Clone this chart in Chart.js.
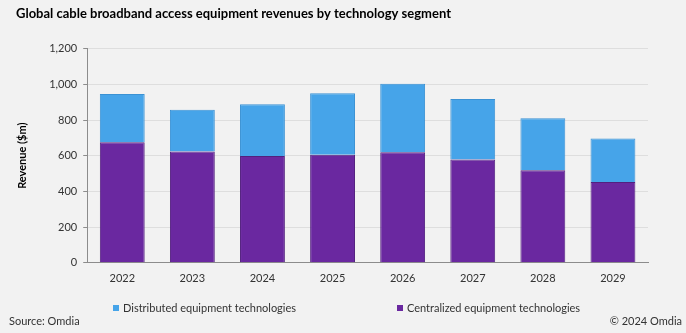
<!DOCTYPE html>
<html>
<head>
<meta charset="utf-8">
<script src="https://cdn.jsdelivr.net/npm/chart.js@4"></script>
<style>
    html, body { margin: 0; padding: 0; background: #f2f2f2; }
    .container { position: relative; width: 686px; height: 333px; }
    .note { position: absolute; top: 314px; font-family: Lato, sans-serif; font-size: 11px; color: #333; }
    #source { left: 9px; }
    #copyright { right: 4px; }
    .legend-item { position: absolute; top: 301px; font-family: Lato, sans-serif; font-size: 11px; color: #333; line-height: 14px; white-space: nowrap; }
    .legend-item span { display: inline-block; width: 6px; height: 6px; margin-right: 4px; vertical-align: 1px; }
</style>
</head>
<body>
<div class="container">
    <canvas id="chart"></canvas>
    <div class="note" id="source">Source: Omdia</div>
    <div class="note" id="copyright">© 2024 Omdia</div>
</div>
<script>
var years = ['2022', '2023', '2024', '2025', '2026', '2027', '2028', '2029'];
var centralized = [676, 624, 599, 605, 620, 579, 518, 452];
var distributed = [269, 234, 289, 345, 383, 339, 292, 245];
var yTicks = [0, 200, 400, 600, 800, 1000, 1200];

Chart.defaults.font.family = 'Lato, sans-serif';
Chart.defaults.color = '#404040';

// legend drawn as html, one entry per dataset, from the chart itself
function buildLegend(chart) {
    var container = document.querySelector('.container');
    var lefts = [113, 397];
    var items = chart.data.datasets.slice().reverse();
    items.forEach(function(ds, i) {
        var div = document.createElement('div');
        div.classList.add('legend-item');
        div.style.left = lefts[i] + 'px';
        var box = document.createElement('span');
        box.style.background = ds.backgroundColor;
        div.appendChild(box);
        div.appendChild(document.createTextNode(ds.label));
        container.appendChild(div);
    });
}

function drawChart() {
    var ctx = document.getElementById('chart').getContext('2d');
    var chart = new Chart(ctx, {
        type: 'bar',
        data: {
            labels: years,
            datasets: [{
                label: 'Centralized equipment technologies',
                data: centralized,
                backgroundColor: '#6a28a0',
                borderColor: '#53207f',
                borderWidth: 1
            }, {
                label: 'Distributed equipment technologies',
                data: distributed,
                backgroundColor: '#46a4e9',
                borderColor: '#3b92d4',
                borderWidth: 1
            }]
        },
        options: {
            responsive: true,
            maintainAspectRatio: false,
            animation: false,
            layout: { padding: { left: 16, right: 38, top: 0, bottom: 39 } },
            datasets: { bar: { barPercentage: 0.64, categoryPercentage: 1 } },
            plugins: {
                title: {
                    display: true,
                    align: 'start',
                    text: 'Global cable broadband access equipment revenues by technology segment',
                    color: '#000',
                    font: { size: 13, weight: 'bold' },
                    padding: { top: 6, bottom: 27 }
                },
                legend: { display: false },
                tooltip: { enabled: false }
            },
            scales: {
                x: {
                    stacked: true,
                    grid: { display: false, drawTicks: false },
                    border: { color: '#8c8c8c' },
                    ticks: { padding: 9, font: { size: 11 }, color: '#333' }
                },
                y: {
                    stacked: true,
                    min: 0,
                    max: 1200,
                    afterBuildTicks: function(axis) {
                        axis.ticks = yTicks.map(function(v) { return { value: v }; });
                    },
                    grid: { color: '#dedede', tickLength: 4, tickColor: '#8c8c8c' },
                    border: { color: '#8c8c8c' },
                    ticks: { padding: 6, autoSkip: false, font: { size: 11 }, color: '#333' },
                    title: {
                        display: true,
                        text: 'Revenue ($m)',
                        color: '#000',
                        font: { size: 11, weight: 'bold' },
                        padding: { top: 0, bottom: 14 }
                    }
                }
            }
        }
    });
    buildLegend(chart);
}

drawChart();
</script>
</body>
</html>
